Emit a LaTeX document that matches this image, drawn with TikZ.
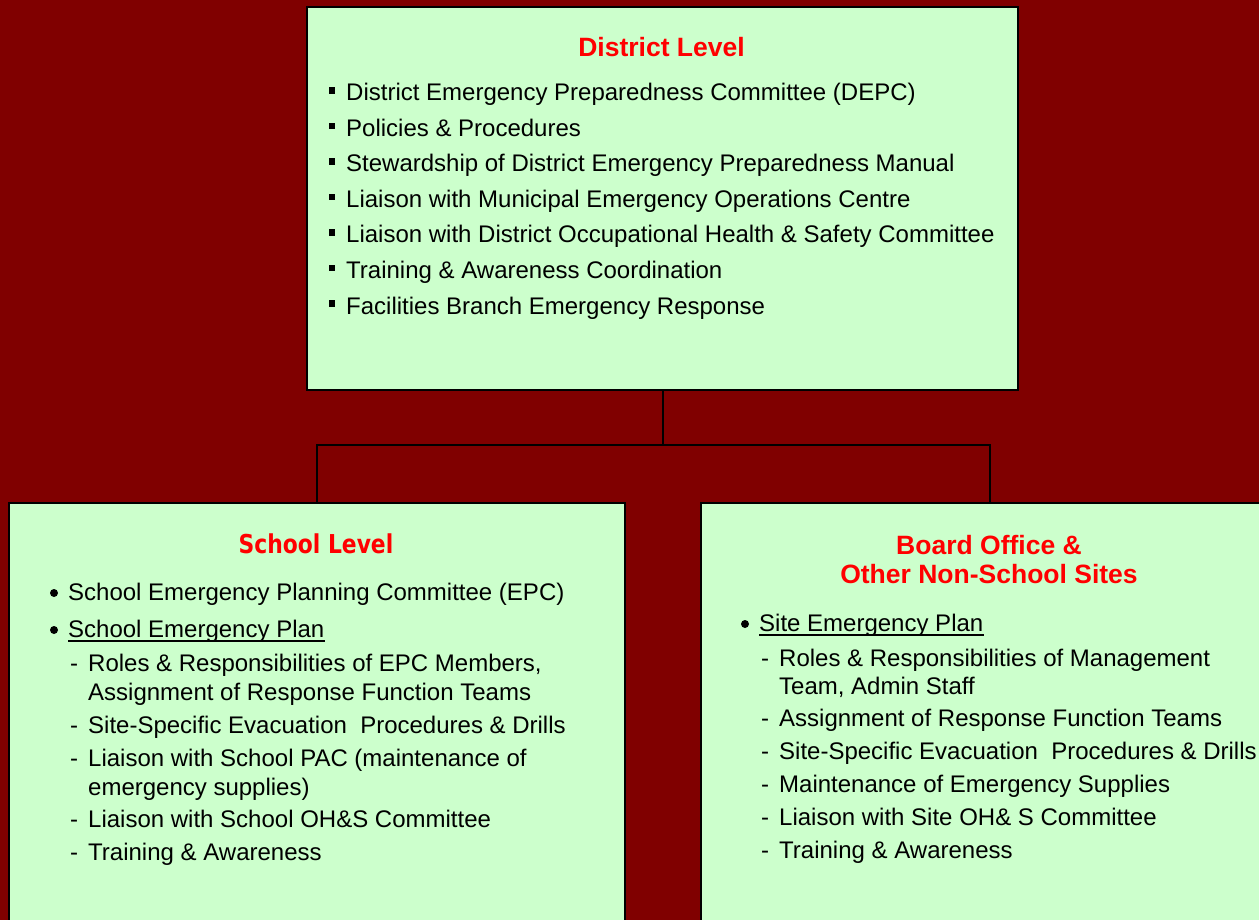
\documentclass[tikz,border=0pt]{standalone}
\usepackage{fontspec}
\setmainfont{Liberation Sans}
\newfontfamily\schoolfont{DejaVu Sans}
\definecolor{bgred}{HTML}{800000}
\definecolor{boxfill}{HTML}{CCFFCC}
\definecolor{titlered}{HTML}{FF0000}
\tikzset{
  panel/.style={draw=black, line width=2pt, fill=boxfill, anchor=north west, inner sep=0pt},
  ttl/.style={text=titlered, font=\fontsize{26.5}{30}\selectfont\bfseries, anchor=base, inner sep=0pt},
  itm/.style={font=\fontsize{24}{29}\selectfont, anchor=base west, inner sep=0pt},
  link/.style={draw=black, line width=2pt},
  uline/.style={line width=1.6pt},
  dot/.style={fill=black}
}
\newcommand{\sqbul}{\llap{\rule[7pt]{6.5pt}{6.5pt}\hspace{11pt}}}
\newcommand{\dsh}{\llap{-\hspace{10pt}}}
\begin{document}
\begin{tikzpicture}[x=1pt,y=-1pt]
\useasboundingbox (0,0) rectangle (1259,920);
\fill[bgred] (0,0) rectangle (1259,920);
\begin{scope}
\clip (0,0) rectangle (1259,920);
% boxes
\node[panel, minimum width=711pt, minimum height=383pt] (top) at (306,6) {};
\node[panel, minimum width=616pt, minimum height=460pt] (school) at (8,502) {};
\node[panel, minimum width=578pt, minimum height=460pt] (board) at (700,502) {};
% connectors
\coordinate (hub) at (top.south |- 0,445);
\draw[link] (top.south) -- (hub);
\draw[link] (school.north) -- (school.north |- hub) -- (board.north |- hub) -- (board.north);
\end{scope}
% district
\node[ttl] (t0) at (661.5,57) {District Level};
\node[itm] (d1) at (346,101) {\sqbul District Emergency Preparedness Committee (DEPC)};
\node[itm] (d2) at (346,136.5) {\sqbul Policies \& Procedures};
\node[itm] (d3) at (346,172) {\sqbul Stewardship of District Emergency Preparedness Manual};
\node[itm] (d4) at (346,207.5) {\sqbul Liaison with Municipal Emergency Operations Centre};
\node[itm] (d5) at (346,243) {\sqbul Liaison with District Occupational Health \& Safety Committee};
\node[itm] (d6) at (346,278.5) {\sqbul Training \& Awareness Coordination};
\node[itm] (d7) at (346,314) {\sqbul Facilities Branch Emergency Response};
% school
\node[text=titlered, anchor=base, inner sep=0pt, font=\schoolfont\bfseries\fontsize{26}{30}\selectfont] (t1) at (316,553) {\scalebox{0.84}[1]{School Level}};
\node[itm] (s1) at (68,600) {School Emergency Planning Committee (EPC)};
\node[itm] (s2) at (68,637) {School Emergency Plan};
\fill[dot] ([xshift=-14pt,yshift=7pt]s1.base west) circle (4pt);
\fill[dot] ([xshift=-14pt,yshift=7pt]s2.base west) circle (4pt);
\draw[uline] ([yshift=-4pt]s2.base west) -- ([yshift=-4pt]s2.base east);
\node[itm] (s3) at (88,671) {\dsh Roles \& Responsibilities of EPC Members,};
\node[itm] (s4) at (88,700) {Assignment of Response Function Teams};
\node[itm] (s5) at (88,733) {\dsh Site-Specific Evacuation\ \ Procedures \& Drills};
\node[itm] (s6) at (88,766) {\dsh Liaison with School PAC (maintenance of};
\node[itm] (s7) at (88,795) {emergency supplies)};
\node[itm] (s8) at (88,827) {\dsh Liaison with School OH\&S Committee};
\node[itm] (s9) at (88,860) {\dsh Training \& Awareness};
% board
\node[ttl] (t2) at (989,554) {Board Office \&};
\node[ttl] (t3) at (989,583) {Other Non-School Sites};
\node[itm] (b1) at (759,631) {Site Emergency Plan};
\fill[dot] ([xshift=-14pt,yshift=7pt]b1.base west) circle (4pt);
\draw[uline] ([yshift=-4pt]b1.base west) -- ([yshift=-4pt]b1.base east);
\node[itm] (b2) at (779,666) {\dsh Roles \& Responsibilities of Management};
\node[itm] (b3) at (779,694) {Team, Admin Staff};
\node[itm] (b4) at (779,726) {\dsh Assignment of Response Function Teams};
\node[itm] (b5) at (779,759) {\dsh Site-Specific Evacuation\ \ Procedures \& Drills};
\node[itm] (b6) at (779,792) {\dsh Maintenance of Emergency Supplies};
\node[itm] (b7) at (779,825) {\dsh Liaison with Site OH\& S Committee};
\node[itm] (b8) at (779,858) {\dsh Training \& Awareness};
\end{tikzpicture}
\end{document}
